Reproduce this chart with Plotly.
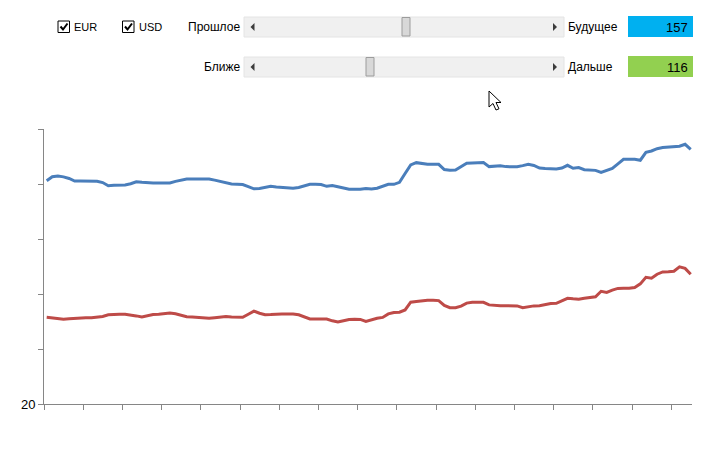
import plotly.graph_objects as go

# ---- data ----
eur = [40.30, 40.66, 40.73, 40.65, 40.50, 40.27, 40.27, 40.27, 40.27, 40.25,
       40.13, 39.84, 39.88, 39.91, 39.91, 40.02, 40.20, 40.15, 40.09, 40.09,
       40.09, 40.09, 40.09, 40.24, 40.35, 40.45, 40.45, 40.45, 40.45, 40.45,
       40.35, 40.23, 40.09, 40.00, 39.98, 39.95, 39.77, 39.56, 39.60, 39.73,
       39.80, 39.73, 39.68, 39.60, 39.61, 39.68, 39.82, 39.97, 39.97, 39.95,
       39.79, 39.87, 39.75, 39.60, 39.52, 39.52, 39.52, 39.60, 39.55, 39.62,
       39.79, 39.97, 39.97, 40.15, 40.95, 41.74, 41.94, 41.86, 41.79, 41.79,
       41.79, 41.32, 41.25, 41.27, 41.57, 41.88, 41.91, 41.95, 41.95, 41.58,
       41.63, 41.66, 41.58, 41.57, 41.57, 41.67, 41.79, 41.69, 41.45, 41.41,
       41.39, 41.37, 41.45, 41.70, 41.43, 41.49, 41.30, 41.26, 41.24, 41.05,
       41.27, 41.42, 41.83, 42.25, 42.25, 42.25, 42.16, 42.88, 43.00, 43.21,
       43.31, 43.34, 43.34, 43.43, 43.61, 43.15]
usd = [27.88, 27.82, 27.76, 27.71, 27.74, 27.79, 27.81, 27.83, 27.85, 27.90,
       27.96, 28.11, 28.15, 28.15, 28.15, 28.11, 28.01, 27.91, 28.03, 28.13,
       28.15, 28.19, 28.27, 28.21, 28.07, 27.94, 27.92, 27.90, 27.88, 27.80,
       27.85, 27.92, 27.96, 27.90, 27.88, 27.88, 28.16, 28.44, 28.25, 28.12,
       28.13, 28.18, 28.18, 28.18, 28.18, 28.11, 27.94, 27.73, 27.73, 27.73,
       27.73, 27.56, 27.45, 27.57, 27.68, 27.70, 27.69, 27.51, 27.68, 27.80,
       27.87, 28.19, 28.32, 28.34, 28.55, 29.26, 29.31, 29.40, 29.43, 29.43,
       29.40, 28.96, 28.75, 28.76, 28.90, 29.17, 29.25, 29.25, 29.24, 29.01,
       28.95, 28.94, 28.94, 28.94, 28.92, 28.75, 28.87, 28.92, 28.93, 29.06,
       29.14, 29.15, 29.38, 29.61, 29.56, 29.53, 29.61, 29.67, 29.75, 30.25,
       30.15, 30.35, 30.51, 30.52, 30.52, 30.59, 30.92, 31.52, 31.43, 31.80,
       32.01, 32.03, 32.07, 32.47, 32.33, 31.79]
x_idx = list(range(len(eur)))
y_ticks = [20, 25, 30, 35, 40, 45]
y_tick_text = ["20", "", "", "", "", ""]
past_value = "157"
near_value = "116"

# ---- layout helpers (pixel -> paper) ----
W, H = 713, 466
L, R, T, B = 44, 21, 129, 62
PW, PH = W - L - R, H - T - B


def px(x):
    return (x - L) / PW


def py(y):
    return (H - B - y) / PH


def rect(x0, y0, x1, y1, fill, line=None, lw=1):
    return dict(type="rect", xref="paper", yref="paper",
                x0=px(x0), x1=px(x1), y0=py(y1), y1=py(y0),
                fillcolor=fill, line=dict(color=line or fill, width=lw if line else 0),
                layer="above")


def poly(points, fill, line=None, lw=1, closed=True):
    d = "M " + " L ".join(f"{px(a):.5f},{py(b):.5f}" for a, b in points)
    if closed:
        d += " Z"
    return dict(type="path", xref="paper", yref="paper", path=d,
                fillcolor=fill, line=dict(color=line or fill, width=lw if line else 0),
                layer="above")


def text(x, y, s, anchor="left", size=12, font="Liberation Sans", color="#000000"):
    return dict(x=px(x), y=py(y), xref="paper", yref="paper", text=s,
                showarrow=False, xanchor=anchor, yanchor="middle",
                font=dict(family=font, size=size, color=color))


fig = go.Figure()
fig.add_trace(go.Scatter(x=x_idx, y=eur, mode="lines", name="EUR",
                         line=dict(color="#4A7EBB", width=3)))
fig.add_trace(go.Scatter(x=x_idx, y=usd, mode="lines", name="USD",
                         line=dict(color="#BE4B48", width=3)))

shapes = []
annotations = []

# checkboxes
for bx, lab in [(58, "EUR"), (122.5, "USD")]:
    shapes.append(rect(bx, 21, bx + 11.5, 32.5, "#FFFFFF", "#000000", 1))
    shapes.append(poly([(bx + 2.5, 26.5), (bx + 5, 29.5), (bx + 9.5, 23.5)],
                       "rgba(0,0,0,0)", "#000000", 2, closed=False))
    annotations.append(text(bx + 14, 27, lab, size=11))

# scrollbars and labels
for row_y, left_lab, right_lab, thumb_x, val, col in [
        (27, "Прошлое", "Будущее", 402, past_value, "#00B0F0"),
        (67, "Ближе", "Дальше", 366, near_value, "#92D050")]:
    shapes.append(rect(244, row_y - 10, 564, row_y + 10, "#F0F0F0", "#E4E4E4", 1))
    shapes.append(poly([(250.5, row_y), (254.5, row_y - 4), (254.5, row_y + 4)], "#3C3C3C"))
    shapes.append(poly([(557, row_y), (553, row_y - 4), (553, row_y + 4)], "#3C3C3C"))
    shapes.append(rect(thumb_x, row_y - 9.5, thumb_x + 8, row_y + 9, "#D8D8D8", "#9C9C9C", 1))
    annotations.append(text(242, row_y, left_lab, anchor="right", size=12))
    annotations.append(text(566, row_y, right_lab, anchor="left", size=12))
    shapes.append(rect(628, row_y - 11, 693, row_y + 10, col))
    annotations.append(text(690, row_y, val, anchor="right", size=13))

# mouse cursor
shapes.append(poly([(489, 91), (489, 107), (493, 103.5), (496, 110), (499, 108.8),
                    (496, 102.5), (501, 102.5)], "#FFFFFF", "#000000", 1))

fig.update_layout(
    width=W, height=H,
    margin=dict(l=L, r=R, t=T, b=B),
    paper_bgcolor="#FFFFFF", plot_bgcolor="#FFFFFF",
    showlegend=False,
    shapes=shapes,
    annotations=annotations,
    font=dict(family="Liberation Sans", size=13, color="#000000"),
)
fig.update_xaxes(range=[-0.48, 115.23], tickvals=[-0.48 + 7 * k for k in range(17)],
                 showticklabels=False, ticks="outside", ticklen=5, tickcolor="#868686",
                 showline=True, linecolor="#868686", linewidth=1,
                 showgrid=False, zeroline=False, fixedrange=True)
fig.update_yaxes(range=[20, 45], tickvals=y_ticks, ticktext=y_tick_text,
                 ticks="outside", ticklen=5, tickcolor="#868686",
                 showline=True, linecolor="#868686", linewidth=1,
                 showgrid=False, zeroline=False, fixedrange=True,
                 tickfont=dict(size=13, color="#000000"))

fig.write_html("out.html", config={"displayModeBar": False},
               post_script="document.body.style.margin='0';")
